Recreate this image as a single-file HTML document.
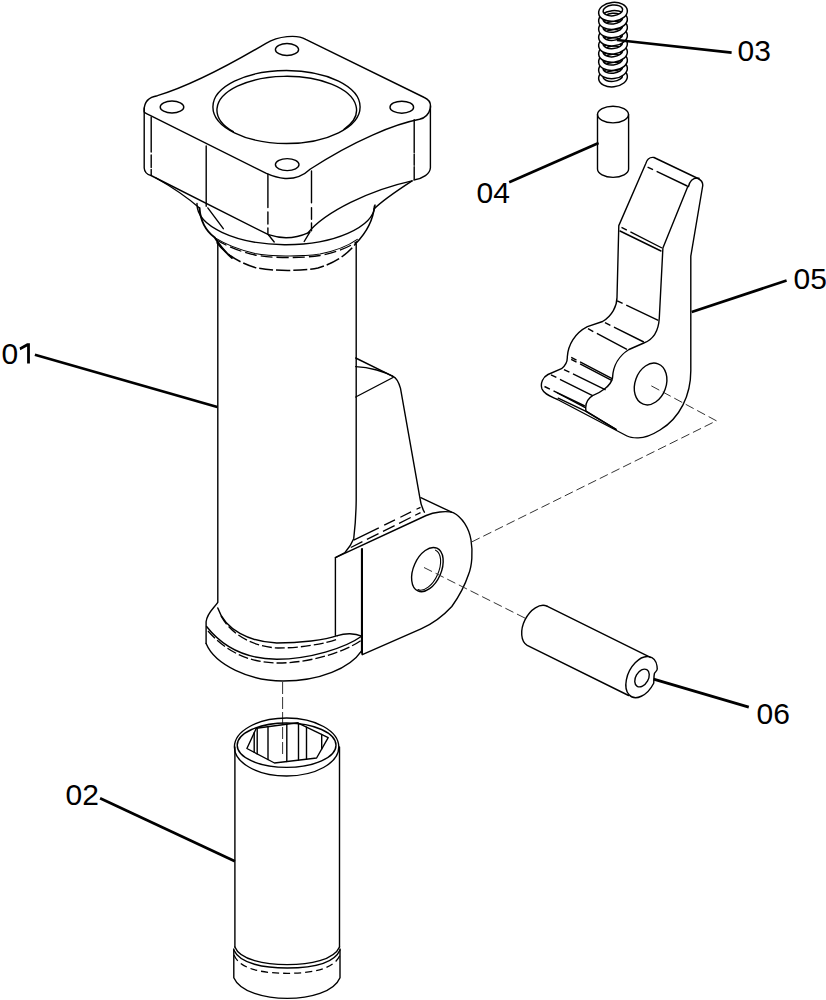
<!DOCTYPE html>
<html><head><meta charset="utf-8">
<style>
html,body{margin:0;padding:0;background:#fff;overflow:hidden;width:826px;height:1000px;}
svg{display:block;}
.l{fill:none;stroke:#000;stroke-width:1.4;stroke-linecap:round;stroke-linejoin:round;}
.d{fill:none;stroke:#000;stroke-width:1.3;stroke-dasharray:7 4;}
.c{fill:none;stroke:#333;stroke-width:1;stroke-dasharray:9 4;}
.e{fill:none;stroke:#000;stroke-width:1.4;stroke-dasharray:6 4 400;}
.k{fill:none;stroke:#000;stroke-width:2.7;stroke-linecap:butt;}
text{font-family:"Liberation Sans",sans-serif;font-size:30px;fill:#000;}
</style></head>
<body>
<svg width="826" height="1000" viewBox="0 0 826 1000">
<!-- ===== PART 01 : flange ===== -->
<g id="p01">
<path class="l" d="M144.2 112 C143.5 102,149 97,157.4 95.7 Q199.3 82.9,266 43.3 C278 36.2,297 34,305.7 39.4 L424.3 97.5 C430 100,431 104,430.4 108 C429 114,425 118,419.5 119.3 C395 124,355 140,310.4 169 C303 176,295 179,285 178.5 C278 178,272 176,265.8 173.2 L149.6 115.1 C146.5 113.5,144.5 113,144.2 112 Z"/>
<!-- holes -->
<ellipse class="l" cx="287" cy="49.5" rx="11.6" ry="6"/>
<ellipse class="l" cx="172" cy="107" rx="11.8" ry="6"/>
<ellipse class="l" cx="401.8" cy="107.2" rx="11.8" ry="6"/>
<ellipse class="l" cx="287.2" cy="164.6" rx="11.8" ry="6"/>
<!-- bore -->
<ellipse class="l" cx="286.5" cy="107" rx="73.6" ry="36.5"/>
<path class="l" d="M233.3 131.7 A69.8 33.7 0 1 1 344 129.3"/>
<!-- side faces -->
<path class="l" d="M144.2 108 L144.2 168 C144.5 172,147 174.5,151 175.5 L268.4 234.7"/>
<path class="l" d="M430.4 106 L430.4 167.7 C430 174,423 178.5,413.9 180"/>
<path class="l" d="M206.2 146 L206.2 206.3"/>
<path class="l" d="M151.2 117 V152 M151.2 155 V167.4 M151.2 169.4 V175.2"/>
<path class="l" d="M414.2 119.6 V152.4 M414.2 154 V165.2 M414.2 166.8 V179"/>
<path class="l" d="M267.9 174.2 V207.6 M267.9 212 V224 M267.9 228 V233.7"/>
<path class="l" d="M311.5 170.9 V202.7 M311.5 207.6 V219.2 M311.5 223 V230.8"/>
<!-- front corner bottom -->
<path class="l" d="M268.4 234.7 Q288.7 241.5,308.1 232.8"/>
<path class="l" d="M268.4 234.7 L274.2 242 M310 231.8 L304.2 241.5"/>
<!-- loft curves -->
<path class="l" d="M156 178 C172 187,188 198,199.5 208"/>
<path class="l" d="M197 203.5 A88 40 0 0 0 375 205"/>
<path class="l" d="M207.8 207.9 L223.3 228.7"/>
<path class="l" d="M412.1 180.9 C370 190,325 212,308.1 232.8"/>
<path class="l" d="M412.1 180.9 C395 192,380 203,374 209"/>
<!-- collar silhouettes -->
<path class="l" style="stroke-width:1.9" d="M199.5 208 C200.5 222,206 231,214.7 237.6 C220 246,226 253,232 258"/>
<path class="l" style="stroke-width:1.6" d="M374.5 206 C373 222,366 233,355.8 243.5"/>
<path class="d" style="stroke-dasharray:14 3;stroke-width:1.5" d="M216.6 242.4 C225 254,240 263,255 267.5 C270 271,300 271.5,318 268 C335 263,348 254,355.8 243.5"/>
<path class="l" style="stroke-width:1.1" d="M214.7 237.6 C225 244,240 250,255 253.5 C270 256.5,300 257,320 254 C335 251,348 246,357.3 239.4"/>
<path class="d" style="stroke-dasharray:12 4" d="M216 239.5 C226 246,241 252,255 255 C270 258,300 258.5,320 255.5 C335 252.5,348 248,357 241.5"/>
<!-- column -->
<path class="l" d="M217.8 243.5 L217.8 602.3 C214 608,207 613,206.1 621.7 L206.1 643.5"/>
<path class="l" d="M356.2 244 L356.2 500 C356 520,354.5 532,353.7 538.7 C352 543,349 548,345 552.5 L335.4 557.6 L335.4 635.3"/>
<!-- rib -->
<path class="l" d="M355.7 358 L393 376.3 C397 378,399 383,400.5 388.4 L419.8 497.4 C420.5 503,422 508,424.4 512.2"/>
<path class="l" d="M355.7 366.6 C370 367,385 372,393 376.3"/>
<path class="l" d="M355.7 397 L393 377.5"/>
<!-- lug -->
<path class="l" d="M420.8 497.7 L451.7 512.2"/>
<path class="l" d="M335.4 557.6 L426.2 515.5 C434 512,446 510.5,453.2 512.6 C462 517,469 528,471 540 C473 552,472 566,468.6 574.3 C465 585,458 598,451.8 606.5 C444 615,432 624,421 628.9 L362.3 654.6"/>
<path class="d" style="stroke-dasharray:28 6 12 6 12 6 12 6" d="M353.7 540.2 L420.5 507.3"/>
<path class="d" style="stroke-dasharray:13 5" d="M350.8 547.5 L420.5 512.6"/>
<path class="l" d="M362.3 548.6 L362.3 654.6"/>
<ellipse class="l" cx="427.4" cy="569.6" rx="13.8" ry="23.4" transform="rotate(24 427.4 569.6)"/>
<path class="l" style="stroke-width:1.1" d="M435.59 550.17 A11.8 21.6 24 0 1 418.01 589.63"/>
<!-- base ring -->
<path class="l" d="M206.1 643.5 C215 665,250 681,283 681 C320 681,350 668,361.6 650.8"/>
<path class="l" d="M217.8 608 C225 630,250 642,276.8 643 C300 643,325 640,337.4 635.7"/>
<path class="d" style="stroke-dasharray:10 3" d="M221 616 C232 636,255 647,278 648 C300 648,325 644,337.4 639"/>
<path class="l" d="M206.6 626.5 C225 650,250 659,276.8 659.2 C310 659,345 648,361.6 636.2"/>
<path class="d" style="stroke-dasharray:10 3" d="M208 631 C228 654,253 663,278 663 C310 663,345 652,361.6 640"/>
<path class="l" d="M337.4 635.7 C345 633,355 633,361.6 636.2"/>
<path class="l" d="M361.6 549 L361.6 653"/>
</g>
<!-- axis lines -->
<path class="c" style="stroke-dasharray:12 3" d="M282.6 682 L282.6 757"/>
<path class="c" d="M424 567.5 L527.2 619.2"/>
<path class="c" d="M471.6 542 L716.4 420.8 L648.6 384.4"/>

<!-- ===== PART 02 : sleeve ===== -->
<g id="p02">
<ellipse class="l" cx="286.6" cy="747" rx="52.2" ry="29"/>
<ellipse class="l" cx="286.6" cy="745.2" rx="49.4" ry="22.2"/>
<path class="l" d="M246.9 748.5 L256.3 728.2 L297.7 722.8 L328.2 737.6 L316.6 758 L274.5 763 Z"/>
<path class="l" d="M254.2 732.7 V752.3 M257.2 728.1 V753.9 M268 726.7 V759.6 M286.8 724.2 V761.5 M298.5 723.2 V760.1 M306.5 727.1 V759.2 M321.7 734.4 V749.0"/>
<path class="l" d="M234.9 747 L234.9 947 M339.5 747 L339.5 947"/>
<path class="l" d="M233.8 949 L233.8 977.7 C240 992,265 998.4,287.2 998.4 C310 998.4,334 992,340 977.7 L340 949"/>
<path class="l" d="M234.9 947 C240 960,265 964.6,287.2 964.6 C310 964.6,334 960,339.5 947"/>
<path class="l" d="M233.8 950 C240 964,265 968,287.2 968 C310 968,334 964,340 950"/>
<path class="d" d="M234 955 C240 970,265 973.3,287.2 973.3 C310 973.3,334 970,340 955"/>
</g>

<!-- ===== PART 06 : pin ===== -->
<g id="p06">
<path class="l" d="M546.9 606.1 A14 22 26.4 0 0 527.2 645.4 L628.6 695.5"/>
<path class="l" d="M546.9 606.1 L650.4 657.4"/>
<path class="l" d="M657 666 A13.6 22 27 1 0 653.7 683.2 C654 680,653.8 676,654.4 673.5 C655.5 671.5,657.8 670.5,657.2 668.5 Z"/>
<ellipse class="l" cx="642" cy="678" rx="6.3" ry="9.6" transform="rotate(30 642 678)"/>
</g>

<!-- ===== PART 04 : pin ===== -->
<g id="p04">
<ellipse class="l" cx="613" cy="114.6" rx="15.5" ry="8.3"/>
<path class="l" d="M597.5 114.6 L597.5 169 A15.5 8.3 0 0 0 628.6 169 L628.6 114.6"/>
</g>

<!-- ===== PART 03 : spring ===== -->
<g id="p03">
<path d="M598.60 77.40 a14.4 9.4 0 1 0 28.8 0 a14.4 9.4 0 1 0 -28.8 0 Z M603.20 76.00 a9.8 5.4 0 1 0 19.6 0 a9.8 5.4 0 1 0 -19.6 0 Z" fill="#fff" fill-rule="evenodd" stroke="#000" stroke-width="1.5" transform="rotate(-6 613.0 77.40)"/>
<path d="M598.60 69.20 a14.4 9.4 0 1 0 28.8 0 a14.4 9.4 0 1 0 -28.8 0 Z M603.20 67.80 a9.8 5.4 0 1 0 19.6 0 a9.8 5.4 0 1 0 -19.6 0 Z" fill="#fff" fill-rule="evenodd" stroke="#000" stroke-width="1.5" transform="rotate(-6 613.0 69.20)"/>
<path d="M598.60 61.00 a14.4 9.4 0 1 0 28.8 0 a14.4 9.4 0 1 0 -28.8 0 Z M603.20 59.60 a9.8 5.4 0 1 0 19.6 0 a9.8 5.4 0 1 0 -19.6 0 Z" fill="#fff" fill-rule="evenodd" stroke="#000" stroke-width="1.5" transform="rotate(-6 613.0 61.00)"/>
<path d="M598.60 52.80 a14.4 9.4 0 1 0 28.8 0 a14.4 9.4 0 1 0 -28.8 0 Z M603.20 51.40 a9.8 5.4 0 1 0 19.6 0 a9.8 5.4 0 1 0 -19.6 0 Z" fill="#fff" fill-rule="evenodd" stroke="#000" stroke-width="1.5" transform="rotate(-6 613.0 52.80)"/>
<path d="M598.60 44.60 a14.4 9.4 0 1 0 28.8 0 a14.4 9.4 0 1 0 -28.8 0 Z M603.20 43.20 a9.8 5.4 0 1 0 19.6 0 a9.8 5.4 0 1 0 -19.6 0 Z" fill="#fff" fill-rule="evenodd" stroke="#000" stroke-width="1.5" transform="rotate(-6 613.0 44.60)"/>
<path d="M598.60 36.40 a14.4 9.4 0 1 0 28.8 0 a14.4 9.4 0 1 0 -28.8 0 Z M603.20 35.00 a9.8 5.4 0 1 0 19.6 0 a9.8 5.4 0 1 0 -19.6 0 Z" fill="#fff" fill-rule="evenodd" stroke="#000" stroke-width="1.5" transform="rotate(-6 613.0 36.40)"/>
<path d="M598.60 28.20 a14.4 9.4 0 1 0 28.8 0 a14.4 9.4 0 1 0 -28.8 0 Z M603.20 26.80 a9.8 5.4 0 1 0 19.6 0 a9.8 5.4 0 1 0 -19.6 0 Z" fill="#fff" fill-rule="evenodd" stroke="#000" stroke-width="1.5" transform="rotate(-6 613.0 28.20)"/>
<path d="M598.60 20.00 a14.4 9.4 0 1 0 28.8 0 a14.4 9.4 0 1 0 -28.8 0 Z M603.20 18.60 a9.8 5.4 0 1 0 19.6 0 a9.8 5.4 0 1 0 -19.6 0 Z" fill="#fff" fill-rule="evenodd" stroke="#000" stroke-width="1.5" transform="rotate(-6 613.0 20.00)"/>
<path d="M598.60 11.80 a14.4 9.4 0 1 0 28.8 0 a14.4 9.4 0 1 0 -28.8 0 Z M603.20 10.40 a9.8 5.4 0 1 0 19.6 0 a9.8 5.4 0 1 0 -19.6 0 Z" fill="#fff" fill-rule="evenodd" stroke="#000" stroke-width="1.5" transform="rotate(-6 613.0 11.80)"/>
</g>

<!-- ===== PART 05 : lever ===== -->
<g id="p05">
<path class="l" d="M645.8 163.5 C647 159,650 157,654 157.5 L698 178.5 C702 180.5,703.5 183,702.5 187 L690.8 256.2 L690.8 370 C691 395,680 418,660 430 C652 435,645 438,638 437.9 C633 438,630 437.6,627 436 L557.5 399.5 C550 396,544 394,542 389 C540 383,543 377,548 374.5 L561.5 368.7 C566 365,567.5 361,567.3 357 C568 345,575 333,587.4 326.7 L602.6 321.5 C612 316,617 306,617 297.6 L618.8 225.6 Z"/>
<path class="l" d="M688 186 L662.9 248 L659.3 318 C658.5 332,652 340,643.8 343 L629 349.5 C620 355,613 365,612.5 378 C611 386,600 393,592.6 395.6 C587 399,585 405,586 411.2 L616 429.4"/>
<path class="e" d="M647.6 167.1 L687.2 186"/>
<path class="l" d="M688.5 186.5 C690 180,694 177.5,699 178.3"/>
<path class="e" d="M621.5 227.4 L662 248"/>
<path class="l" d="M620 231 L661 251"/>
<path class="e" d="M617.2 300.9 L658.3 320.3"/>
<path class="e" d="M605 322.7 L643.8 342"/>
<path class="e" d="M588 328.7 L626.9 349.3"/>
<path class="e" d="M571.2 357.3 L612.1 378.7"/>
<path class="e" d="M571.2 359.3 L612.1 380.7"/>
<path class="e" d="M564 369.6 L605.6 389.8"/>
<path class="e" d="M551 374.8 L592.6 395.6"/>
<path class="e" d="M544.5 386.5 L584.8 406"/>
<path class="l" d="M557.5 393 L584.8 407.3"/>
<path class="l" d="M558.2 398.2 L585.5 411.2 L616 429.4"/>
<ellipse class="l" cx="650.6" cy="384" rx="15.5" ry="21.5" transform="rotate(20 650.6 384)"/>
</g>

<!-- ===== leaders ===== -->
<path class="k" d="M34.9 354.7 L217.3 407"/>
<path class="k" d="M100.1 798.3 L234.9 861.3"/>
<path class="k" d="M617 40 L731.6 52.7"/>
<path class="k" d="M509.2 182.2 L598.6 142.9"/>
<path class="k" d="M786.6 280.5 L691.7 312"/>
<path class="k" d="M653.6 679.1 L748.8 707.1"/>
<text x="1.5" y="363.6">0</text>
<path d="M27.1 343.2 H29.9 V363.5 H27.1 V346.6 L20.3 350.3 L19.5 347.6 Z" fill="#000"/>
<text x="65.5" y="805">02</text>
<text x="737.5" y="60.8">03</text>
<text x="476.5" y="203">04</text>
<text x="793.5" y="289">05</text>
<text x="756.5" y="723.8">06</text>
</svg>
</body></html>
